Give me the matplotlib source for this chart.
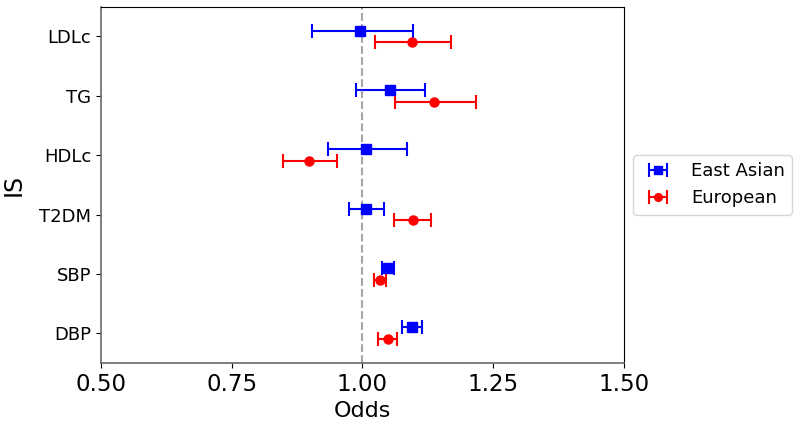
import matplotlib
matplotlib.use("Agg")
import matplotlib.pyplot as plt

traits = ["DBP", "SBP", "T2DM", "HDLc", "TG", "LDLc"]

# East Asian: odds, lower, upper
ea_odds = [1.095, 1.049, 1.007, 1.007, 1.052, 0.995]
ea_low = [1.076, 1.038, 0.975, 0.934, 0.987, 0.904]
ea_high = [1.114, 1.061, 1.042, 1.085, 1.120, 1.097]

# European: odds, lower, upper
eu_odds = [1.048, 1.033, 1.096, 0.898, 1.137, 1.094]
eu_low = [1.030, 1.022, 1.061, 0.848, 1.062, 1.024]
eu_high = [1.066, 1.045, 1.131, 0.952, 1.218, 1.169]

xticks = [0.50, 0.75, 1.00, 1.25, 1.50]

fig = plt.figure(figsize=(8, 4.25), dpi=100)
ax = fig.add_axes([0.126, 0.146, 0.654, 0.838])

pos = list(range(len(traits)))
ea_err = [[o - l for o, l in zip(ea_odds, ea_low)], [h - o for o, h in zip(ea_odds, ea_high)]]
eu_err = [[o - l for o, l in zip(eu_odds, eu_low)], [h - o for o, h in zip(eu_odds, eu_high)]]

ax.errorbar(ea_odds, [p + 0.1 for p in pos], xerr=ea_err, fmt="s", color="blue",
            capsize=5, markersize=6.5, elinewidth=1.5, capthick=1.5, label="East Asian")
ax.errorbar(eu_odds, [p - 0.1 for p in pos], xerr=eu_err, fmt="o", color="red",
            capsize=5, markersize=6.5, elinewidth=1.5, capthick=1.5, label="European")

ax.axvline(1.0, color="gray", linestyle="--", alpha=0.7)

ax.set_xlim(0.5, 1.5)
ax.set_ylim(-0.5, 5.5)
ax.set_xticks(xticks)
ax.set_xticklabels([f"{t:.2f}" for t in xticks], fontsize=16.5)
ax.set_yticks(pos)
ax.set_yticklabels(traits, fontsize=13)
ax.set_xlabel("Odds", fontsize=16)
ax.set_ylabel("IS", fontsize=17, labelpad=10)

for s in ["left", "bottom"]:
    ax.spines[s].set_color("dimgray")
    ax.spines[s].set_linewidth(1.2)

ax.legend(loc="center left", bbox_to_anchor=(1.0, 0.5), fontsize=13, markerscale=0.85)

fig.savefig("out.png", dpi=100)
